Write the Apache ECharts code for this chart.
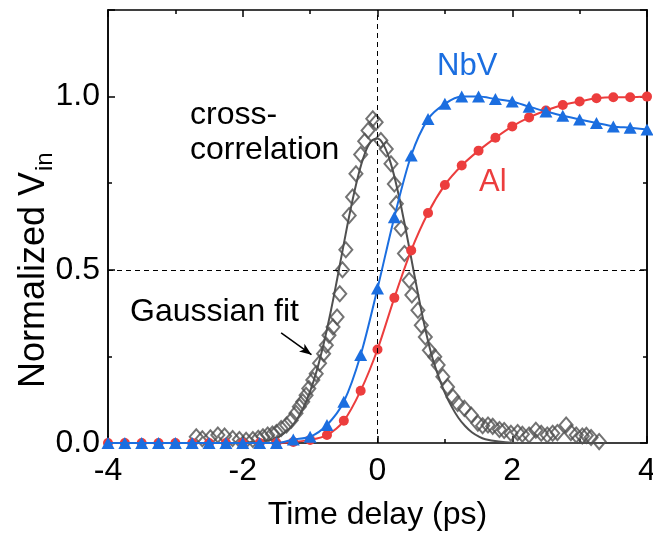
<!DOCTYPE html>
<html>
<head>
<meta charset="utf-8">
<script src="https://cdn.jsdelivr.net/npm/echarts@6/dist/echarts.min.js"></script>
<style>
  html, body { margin: 0; padding: 0; background: #fff; }
  #chart { width: 653px; height: 536px; }
</style>
</head>
<body>
<div id="chart"></div>
<script>
// Time delay grid (ps) shared by the two detector curves
const delays = [-4, -3.75, -3.5, -3.25, -3, -2.75, -2.5, -2.25, -2, -1.75, -1.5, -1.25,
  -1, -0.75, -0.5, -0.25, 0, 0.25, 0.5, 0.75, 1, 1.25, 1.5, 1.75, 2, 2.25, 2.5, 2.75,
  3, 3.25, 3.5, 3.75, 4];

// Normalized V_in of the NbV detector
const nbv = [0, 0, 0, 0, 0, 0, 0, 0, 0, 0, 0, 0.01,
  0.018, 0.052, 0.119, 0.254, 0.446, 0.652, 0.83, 0.935, 0.979, 1.0, 1.0, 0.993,
  0.986, 0.971, 0.957, 0.945, 0.934, 0.924, 0.914, 0.91, 0.905];

// Normalized V_in of the Al detector
const al = [0, 0, 0, 0, 0, 0, 0, 0, 0, 0, 0, 0.003,
  0.009, 0.023, 0.064, 0.151, 0.27, 0.419, 0.556, 0.664, 0.745, 0.801, 0.844, 0.881,
  0.914, 0.94, 0.96, 0.976, 0.986, 0.995, 0.998, 0.998, 1.0];

// Measured cross-correlation: delay (ps)
const xcDelay = [-2.69, -2.6, -2.48, -2.37, -2.27, -2.15, -2.05, -1.95, -1.85, -1.77,
  -1.7, -1.63, -1.56, -1.5, -1.43, -1.35, -1.28, -1.21, -1.16, -1.11, -1.06, -1.02,
  -0.96, -0.91, -0.86, -0.8, -0.76, -0.72, -0.66, -0.6, -0.56, -0.52, -0.47, -0.42,
  -0.37, -0.32, -0.25, -0.19, -0.14, -0.07, -0.02, 0.05, 0.13, 0.2, 0.25, 0.28, 0.35,
  0.4, 0.47, 0.51, 0.6, 0.65, 0.71, 0.77, 0.85, 0.9, 0.97, 1.04, 1.12, 1.19, 1.29,
  1.39, 1.49, 1.56, 1.64, 1.71, 1.81, 1.88, 1.98, 2.08, 2.15, 2.25, 2.35, 2.43, 2.52,
  2.6, 2.67, 2.8, 2.87, 2.95, 3.04, 3.1, 3.17, 3.29];
// Measured cross-correlation: normalized amplitude
const xcValue = [0.018, 0.012, 0.015, 0.023, 0.02, 0.013, 0.01, 0.008, 0.01, 0.014,
  0.018, 0.023, 0.026, 0.03, 0.042, 0.052, 0.066, 0.086, 0.105, 0.119, 0.138, 0.157,
  0.182, 0.2, 0.23, 0.258, 0.282, 0.311, 0.335, 0.364, 0.431, 0.5, 0.558, 0.657,
  0.71, 0.777, 0.833, 0.871, 0.902, 0.936, 0.926, 0.873, 0.849, 0.806, 0.748, 0.691, 0.619,
  0.547, 0.47, 0.427, 0.383, 0.34, 0.306, 0.268, 0.249, 0.225, 0.191, 0.162, 0.133, 0.114, 0.1,
  0.081, 0.057, 0.05, 0.052, 0.048, 0.039, 0.036, 0.028, 0.03, 0.025, 0.023, 0.037, 0.028, 0.023,
  0.028, 0.03, 0.052, 0.03, 0.023, 0.02, 0.022, 0.016, 0.004];

// Gaussian fit of the cross-correlation, sampled along delay
const fitDelay = [-2.7, -2.2, -2.0, -1.8, -1.6, -1.5, -1.4, -1.3, -1.2, -1.1, -1.0, -0.9,
  -0.8, -0.7, -0.6, -0.5, -0.4, -0.3, -0.2, -0.1, 0, 0.1, 0.2, 0.3, 0.4, 0.5, 0.6, 0.7,
  0.8, 0.9, 1.0, 1.1, 1.2, 1.3, 1.4, 1.5, 1.6, 1.8, 2.0, 2.4, 3.3];
const fitValue = [0, 0, 0.001, 0.003, 0.009, 0.015, 0.026, 0.043, 0.067, 0.102, 0.149, 0.21,
  0.286, 0.374, 0.472, 0.575, 0.674, 0.761, 0.829, 0.87, 0.879, 0.857, 0.805, 0.728, 0.635, 0.534,
  0.432, 0.337, 0.256, 0.195, 0.145, 0.105, 0.073, 0.049, 0.031, 0.019, 0.011, 0.004, 0.001, 0, 0];

// Axis tick values
const xTicks = [-4, -2, 0, 2, 4];
const yTicks = [0, 0.5, 1.0];

const BLUE = '#1b6ee0';
const RED = '#ec3d3d';
const GRAY = '#505050';
const FONT = '"Liberation Sans", Arial, sans-serif';

const zip = (xs, ys) => xs.map((x, i) => [x, ys[i]]);

const chart = echarts.init(document.getElementById('chart'), null, { renderer: 'canvas' });

const baseX = {
  type: 'value', min: xTicks[0], max: xTicks[xTicks.length - 1], interval: xTicks[1] - xTicks[0],
  axisLine: { show: true, onZero: false, lineStyle: { color: '#000', width: 1.5 } },
  axisTick: { show: true, inside: true, length: 7, lineStyle: { color: '#000', width: 1.5 } },
  minorTick: { show: true, splitNumber: 2, length: 4, lineStyle: { color: '#000', width: 1.5 } },
  splitLine: { show: false }, minorSplitLine: { show: false }
};
const baseY = {
  type: 'value', min: 0, max: 1.25,
  axisLine: { show: true, onZero: false, lineStyle: { color: '#000', width: 1.5 } },
  axisTick: { show: true, inside: true, lineStyle: { color: '#000', width: 1.5 } },
  axisLabel: { show: false },
  splitLine: { show: false }
};
const isMajorY = v => yTicks.some(t => Math.abs(t - v) < 1e-9);

const option = {
  animation: false,
  backgroundColor: '#fff',
  grid: { left: 108, right: 6, top: 10, bottom: 93, outerBoundsMode: 'none', containLabel: false },
  xAxis: [
    Object.assign({}, baseX, {
      position: 'bottom',
      axisLabel: { show: true, margin: 12, fontSize: 32, color: '#000', fontFamily: FONT,
        formatter: v => String(v) },
      name: 'Time delay (ps)', nameLocation: 'middle', nameGap: 56,
      nameTextStyle: { fontSize: 32, color: '#000', fontFamily: FONT }
    }),
    Object.assign({}, baseX, { position: 'top', axisLabel: { show: false } })
  ],
  yAxis: [
    Object.assign({}, baseY, {
      position: 'left', interval: 0.25,
      axisTick: Object.assign({}, baseY.axisTick, { length: 4 }),
      axisLabel: { show: true, margin: 8, fontSize: 32, color: '#000', fontFamily: FONT,
        formatter: v => (isMajorY(v) ? v.toFixed(1) : '') }
    }),
    Object.assign({}, baseY, { position: 'left', interval: 0.5,
      axisTick: Object.assign({}, baseY.axisTick, { length: 7 }) }),
    Object.assign({}, baseY, { position: 'right', interval: 0.25,
      axisTick: Object.assign({}, baseY.axisTick, { length: 4 }) }),
    Object.assign({}, baseY, { position: 'right', interval: 0.5,
      axisTick: Object.assign({}, baseY.axisTick, { length: 7 }) })
  ],
  series: [
    {
      name: 'Gaussian fit', type: 'line', data: zip(fitDelay, fitValue),
      smooth: 0.4, showSymbol: false, symbol: 'none',
      lineStyle: { color: GRAY, width: 2 }, z: 2,
      markLine: {
        silent: true, symbol: ['none', 'none'], label: { show: false },
        lineStyle: { color: '#000', width: 1, type: [5, 4] },
        data: [{ xAxis: 0 }, { yAxis: 0.5 }]
      }
    },
    {
      name: 'cross-correlation', type: 'scatter', data: zip(xcDelay, xcValue),
      symbol: 'diamond', symbolSize: [13, 15],
      itemStyle: { color: 'rgba(255,255,255,0)', borderColor: GRAY, borderWidth: 2 }, z: 3,
      markLine: {
        silent: true, symbol: ['none', 'arrow'], symbolSize: [7, 12], label: { show: false },
        lineStyle: { color: '#000', width: 1.5, type: 'solid' },
        data: [[{ coord: [-1.43, 0.318] }, { coord: [-0.98, 0.255] }]]
      }
    },
    {
      name: 'Al', type: 'line', data: zip(delays, al), smooth: 0.3,
      symbol: 'circle', symbolSize: 10, showAllSymbol: true,
      lineStyle: { color: RED, width: 2 }, itemStyle: { color: RED }, z: 4
    },
    {
      name: 'NbV', type: 'line', data: zip(delays, nbv), smooth: 0.3,
      symbol: 'triangle', symbolSize: [13, 12], showAllSymbol: true,
      lineStyle: { color: BLUE, width: 2 }, itemStyle: { color: BLUE }, z: 5
    }
  ],
  graphic: [
    { type: 'text', left: 190, top: 99, style: { text: 'cross-', fontSize: 32, fontFamily: FONT, fill: '#000' } },
    { type: 'text', left: 190, top: 134, style: { text: 'correlation', fontSize: 32, fontFamily: FONT, fill: '#000' } },
    { type: 'text', left: 437, top: 51, style: { text: 'NbV', fontSize: 31, fontFamily: FONT, fill: BLUE } },
    { type: 'text', left: 479, top: 167, style: { text: 'Al', fontSize: 31, fontFamily: FONT, fill: RED } },
    { type: 'text', left: 130, top: 296, style: { text: 'Gaussian fit', fontSize: 32, fontFamily: FONT, fill: '#000' } },
    {
      type: 'group', x: 34, y: 172, rotation: Math.PI / 2,
      children: [
        { type: 'text', x: 0, y: 0, style: { text: 'Normalized V', fontSize: 36, fontFamily: FONT, fill: '#000',
          align: 'right', verticalAlign: 'middle' } },
        { type: 'text', x: 1, y: 11, style: { text: 'in', fontSize: 24, fontFamily: FONT, fill: '#000',
          align: 'left', verticalAlign: 'middle' } }
      ]
    }
  ]
};

chart.setOption(option);
</script>
</body>
</html>
